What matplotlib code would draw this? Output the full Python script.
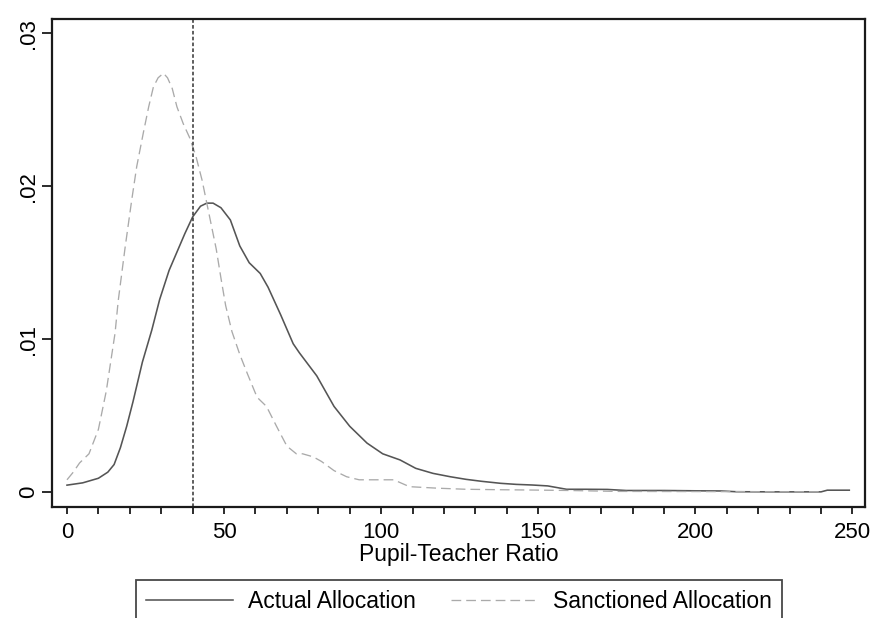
import matplotlib
matplotlib.use("Agg")
import matplotlib.pyplot as plt
from matplotlib.ticker import FixedLocator, MultipleLocator, FuncFormatter
from matplotlib.lines import Line2D

plt.rcParams['font.family'] = ['Liberation Sans', 'DejaVu Sans']
plt.rcParams['lines.scale_dashes'] = False

# ---- data ----
actual_x = [0, 5, 10, 13, 15, 17, 19, 21, 24, 27, 29.5, 32.5, 35, 37.5, 40, 42.5, 44.5,
            46.5, 49, 52, 55, 58, 61.5, 64, 68, 72, 74, 79.5, 85, 90, 95.5, 100.5, 106,
            111, 116.5, 122, 127, 132, 138, 143, 148, 153, 159, 165, 172, 178, 190, 200,
            208, 213, 225, 240, 242, 249]
actual_y = [0.00045, 0.0006, 0.0009, 0.0013, 0.0018, 0.0029, 0.0043, 0.0059, 0.0085, 0.0106,
            0.0126, 0.0145, 0.0157, 0.0169, 0.0180, 0.0187, 0.0189, 0.0189, 0.0186, 0.0178,
            0.0161, 0.0150, 0.0143, 0.0134, 0.0116, 0.0097, 0.0091, 0.0076, 0.0056, 0.0043,
            0.0032, 0.0025, 0.0021, 0.00155, 0.00122, 0.0010, 0.00083, 0.0007, 0.00057, 0.0005,
            0.00046, 0.0004, 0.00018, 0.00018, 0.00017, 0.0001, 0.0001, 0.00008,
            0.00007, 0.00002, 0.00001, 0.00001, 0.00012, 0.00012]

sanct_x = [0, 2, 4, 7, 10, 12.5, 15.3, 16.3, 18.5, 20.6, 22.2, 24.3, 26, 27.5, 29, 30.7,
           32, 33.5, 35, 37, 39, 41, 43, 44.5, 46, 47.5, 49, 50.5, 52.5, 55, 57.5, 60.5,
           63.5, 66.7, 70, 73, 75, 78.4, 81, 85, 89, 93, 99, 104, 109, 118, 127, 138,
           148, 160, 175, 200, 220, 240]
sanct_y = [0.0008, 0.0013, 0.0019, 0.0025, 0.0041, 0.0066, 0.0104, 0.0125, 0.0160, 0.0191,
           0.0213, 0.0235, 0.0252, 0.0265, 0.0271, 0.0274, 0.0271, 0.0264, 0.0252, 0.0241,
           0.0232, 0.0220, 0.0204, 0.0189, 0.0174, 0.0159, 0.0140, 0.0122, 0.0105, 0.0090,
           0.0077, 0.0062, 0.0056, 0.0043, 0.0030, 0.0025, 0.0025, 0.0023, 0.0020, 0.0014,
           0.0010, 0.0008, 0.0008, 0.0008, 0.00035, 0.00025, 0.00018, 0.00015, 0.00013,
           0.0001, 0.00004, 0.00003, 0.00002, 0.00002]

ref_line = 40
series_labels = ["Actual Allocation", "Sanctioned Allocation"]
x_major = [0, 50, 100, 150, 200, 250]
y_major = [0, 0.01, 0.02, 0.03]
y_tick_labels = ["0", ".01", ".02", ".03"]
xlabel = "Pupil-Teacher Ratio"

# ---- figure ----
fig = plt.figure(figsize=(8.75, 6.18), dpi=100)
ax = fig.add_axes([52/875, 1-507/618, (865-52)/875, (507-18.5)/618])

solid_color = "#555555"
dash_color = "#aaaaaa"

l1, = ax.plot(actual_x, actual_y, color=solid_color, lw=1.15, solid_joinstyle='round')
l2, = ax.plot(sanct_x, sanct_y, color=dash_color, lw=0.95, linestyle=(0, (7, 3.6)))
ax.axvline(ref_line, color="#333333", lw=1.1, linestyle=(0, (2.6, 1.6)))

ax.set_xlim(-4.77, 254.0)
ax.set_ylim(-0.00098, 0.03098)

ax.xaxis.set_major_locator(FixedLocator(x_major))
ax.xaxis.set_minor_locator(MultipleLocator(10))
ax.yaxis.set_major_locator(FixedLocator(y_major))
ax.yaxis.set_major_formatter(FuncFormatter(lambda v, p: y_tick_labels[y_major.index(min(y_major, key=lambda t: abs(t - v)))]))

for s in ax.spines.values():
    s.set_linewidth(1.6)
    s.set_color("#1a1a1a")

ax.tick_params(axis='x', which='both', length=5, width=1.3, color="#1a1a1a", labelsize=16, pad=6)
ax.tick_params(axis='y', which='major', length=7, width=1.3, color="#1a1a1a", labelsize=16)
for lab in ax.get_yticklabels():
    lab.set_rotation(90)
    lab.set_va('center')
    lab.set_ha('center')
ax.tick_params(axis='y', pad=10)

ax.set_xlabel(xlabel, fontsize=16.5, labelpad=0)

handles = [Line2D([], [], color=solid_color, lw=1.15),
           Line2D([], [], color=dash_color, lw=0.95, linestyle=(0, (7, 3.6)))]
leg = fig.legend(handles, series_labels, loc='upper left',
                 bbox_to_anchor=(136/875, 1-580/618, (782-136)/875, 0),
                 mode='expand', ncol=2, fontsize=16.5, frameon=True, fancybox=False,
                 borderaxespad=0, borderpad=0.45, handlelength=3.8, handletextpad=0.65,
                 columnspacing=1.5)
leg.get_frame().set_edgecolor("#1a1a1a")
leg.get_frame().set_linewidth(1.3)

fig.savefig("out.png", dpi=100)
